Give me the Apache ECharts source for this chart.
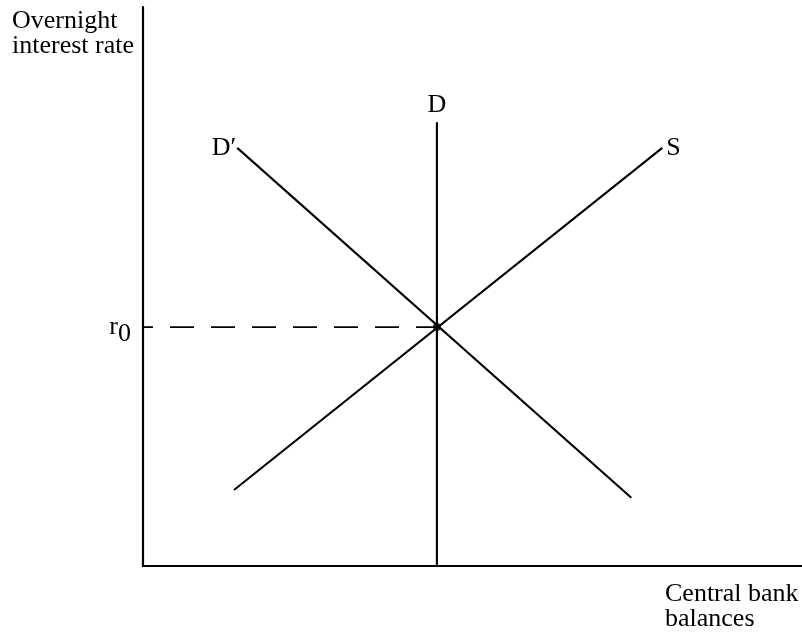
<!DOCTYPE html>
<html lang="en">
<head>
  <meta charset="UTF-8">
  <title>Overnight interest rate - central bank balances</title>
  <script src="https://cdn.jsdelivr.net/npm/echarts/dist/echarts.min.js"></script>
  <style>
    body { margin: 0; background: #ffffff; }
    #main { width: 802px; height: 633px; }
  </style>
</head>
<body>
  <div id="main"></div>
  <script>
    // Schematic coordinates (0-100 on both axes)
    const dLine = [[44.6, 0], [44.6, 79.4]];
    const dPrimeLine = [[14.3, 74.8], [74.1, 12.2]];
    const sLine = [[13.8, 13.6], [78.8, 74.8]];
    const r0Line = [[0, 42.75], [44.6, 42.75]];
    const equilibrium = [[44.6, 42.75]];

    const serif = "'Liberation Serif', 'Times New Roman', serif";
    const ink = '#000000';

    var chart = echarts.init(document.getElementById('main'));

    // label only on the chosen end of a line
    function withLabel(points, idx, label) {
      return points.map((p, i) => i === idx ? { value: p, label: label } : { value: p });
    }

    var lineStyle = { color: ink, width: 2.1 };
    var noSymbol = { symbol: 'circle', symbolSize: 0, showSymbol: true, itemStyle: { color: ink } };

    var option = {
      backgroundColor: '#ffffff',
      animation: false,
      grid: { left: 143, right: 0, top: 7, bottom: 67 },
      xAxis: {
        type: 'value', min: 0, max: 100,
        axisLine: { lineStyle: { color: ink, width: 2.2 } },
        axisTick: { show: false }, axisLabel: { show: false }, splitLine: { show: false }
      },
      yAxis: {
        type: 'value', min: 0, max: 100,
        axisLine: { show: true, lineStyle: { color: ink, width: 2.2 } },
        axisTick: { show: false }, axisLabel: { show: false }, splitLine: { show: false }
      },
      graphic: [
        { type: 'text', left: 12, top: 8,
          style: { text: 'Overnight\ninterest rate', font: '26px ' + serif, lineHeight: 25, fill: ink } },
        { type: 'text', left: 665, top: 581,
          style: { text: 'Central bank\nbalances', font: '26px ' + serif, lineHeight: 25, fill: ink } }
      ],
      series: [
        Object.assign({
          type: 'line', lineStyle: lineStyle,
          data: withLabel(dLine, 1, { show: true, position: 'top', distance: 4, formatter: 'D',
            color: ink, fontFamily: serif, fontSize: 26 })
        }, noSymbol),
        Object.assign({
          type: 'line', lineStyle: lineStyle,
          data: withLabel(dPrimeLine, 0, { show: true, position: 'left', distance: 1, formatter: 'D\u2032',
            color: ink, fontFamily: serif, fontSize: 26 })
        }, noSymbol),
        Object.assign({
          type: 'line', lineStyle: lineStyle,
          data: withLabel(sLine, 1, { show: true, position: 'right', distance: 4, formatter: 'S',
            color: ink, fontFamily: serif, fontSize: 26 })
        }, noSymbol),
        Object.assign({
          type: 'line',
          lineStyle: { color: ink, width: 1.8, type: [24, 17], dashOffset: 14 },
          data: withLabel(r0Line, 0, { show: true, position: 'left', distance: 12,
            formatter: '{r|r}{s|0}',
            rich: {
              r: { fontFamily: serif, fontSize: 26, color: ink },
              s: { fontFamily: serif, fontSize: 26, color: ink, padding: [14, 0, 0, 0] }
            } })
        }, noSymbol),
        {
          type: 'scatter', symbol: 'circle', symbolSize: 8,
          itemStyle: { color: ink }, data: equilibrium, z: 5
        }
      ]
    };

    chart.setOption(option);
  </script>
</body>
</html>
